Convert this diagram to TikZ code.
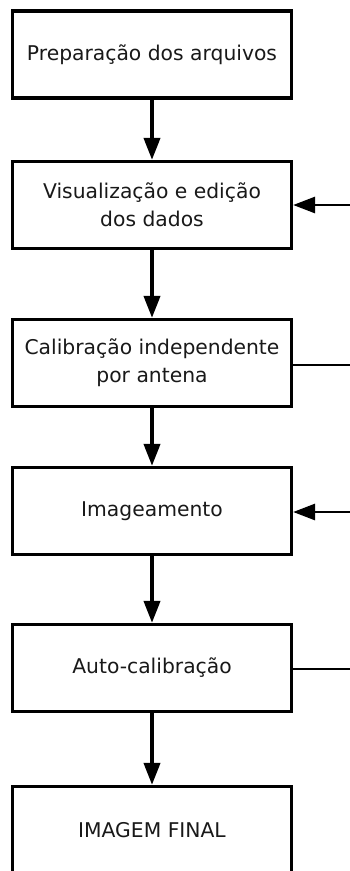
\documentclass[tikz,border=0pt]{standalone}
\usepackage{fontspec}
\setmainfont{DejaVu Sans}
\usetikzlibrary{arrows.meta}
\begin{document}
\begin{tikzpicture}[x=1pt,y=-1pt,
  stepbox/.style={draw=black, line width=3.2pt, fill=white, minimum width=279pt, minimum height=87pt, align=center, inner sep=0pt, font=\fontsize{20.3}{28}\selectfont, text=black!90},
  flow/.style={line width=3.8pt, -{Triangle[length=22pt,width=16pt]}},
  side/.style={line width=2.8pt},
  sidearrow/.style={line width=2.8pt, -{Triangle[length=22pt,width=16pt]}}]
\clip (0,0) rectangle (350,871);
\fill[white] (0,0) rectangle (350,871);
\node[stepbox] (b1) at (152,54.5) {Preparação dos arquivos};
\node[stepbox] (b2) at (152,205) {Visualização e edição\\dos dados};
\node[stepbox] (b3) at (152,363) {Calibração independente\\por antena};
\node[stepbox] (b4) at (152,511) {Imageamento};
\node[stepbox] (b5) at (152,668) {Auto-calibração};
\node[stepbox] (b6) at (152,830) {IMAGEM FINAL};
\draw[flow] (b1.south) -- (b2.north);
\draw[flow] (b2.south) -- (b3.north);
\draw[flow] (b3.south) -- (b4.north);
\draw[flow] (b4.south) -- (b5.north);
\draw[flow] (b5.south) -- (b6.north);
\coordinate (r2) at (352,205);
\coordinate (r3) at (352,365);
\coordinate (r4) at (352,512);
\coordinate (r5) at (352,669);
\draw[sidearrow] (r2) -- (b2.east |- r2);
\draw[side] (b3.east |- r3) -- (r3);
\draw[sidearrow] (r4) -- (b4.east |- r4);
\draw[side] (b5.east |- r5) -- (r5);
\end{tikzpicture}
\end{document}
